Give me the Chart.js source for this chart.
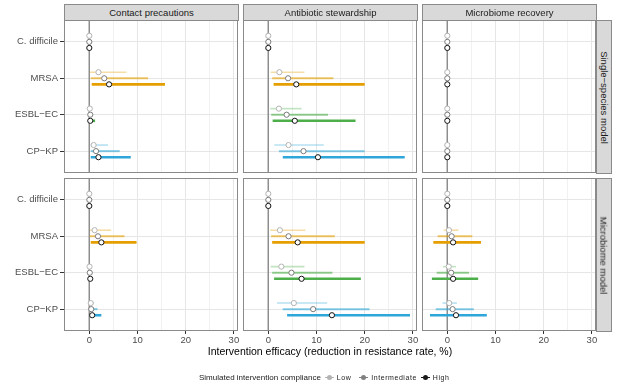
<!DOCTYPE html>
<html>
<head>
<meta charset="utf-8">
<script src="https://cdn.jsdelivr.net/npm/chart.js@4.4.1/dist/chart.umd.min.js"></script>
<style>
  body { margin: 0; background: #fff; font-family: "Liberation Sans", Arial, sans-serif; }
  #wrap { position: relative; width: 617px; height: 392px; overflow: hidden; }
  canvas { position: absolute; left: 0; top: 0; }
  .strip { position: absolute; background: #d9d9d9; border: 1px solid #8a8a8a; box-sizing: border-box;
           color: #1a1a1a; font-size: 9.5px; display: flex; align-items: center; justify-content: center; white-space: nowrap; }
  .strip.side span { transform: rotate(90deg); display: block; }
  #xtitle { position: absolute; left: 64px; width: 532px; top: 345px; text-align: center; font-size: 10.5px; color: #000; }
  #legend { position: absolute; left: 199px; top: 371px; height: 12px; display: flex; align-items: center; font-size: 8px; color: #1a1a1a; white-space: nowrap; }
  .key { position: relative; width: 9px; height: 12px; margin: 0 3px 0 4px; }
  .key i { position: absolute; left: 0; top: 5.5px; width: 9px; height: 1.2px; }
  .key b { position: absolute; left: 2px; top: 4px; width: 5px; height: 5px; border-radius: 50%; }
  .lab { font-size: 7px; letter-spacing: 0.55px; }
</style>
</head>
<body>
<div id="wrap">
  <canvas id="p00" width="617" height="392"></canvas>
  <canvas id="p01" width="617" height="392"></canvas>
  <canvas id="p02" width="617" height="392"></canvas>
  <canvas id="p10" width="617" height="392"></canvas>
  <canvas id="p11" width="617" height="392"></canvas>
  <canvas id="p12" width="617" height="392"></canvas>
  <div id="xtitle">Intervention efficacy (reduction in resistance rate, %)</div>
  <div id="legend">
    <span>Simulated intervention compliance</span>
    <span class="key" style="margin-left:4px"><i style="background:#b3b3b3"></i><b style="background:#b3b3b3"></b></span><span class="lab">Low</span>
    <span class="key" style="margin-left:8px"><i style="background:#808080"></i><b style="background:#808080"></b></span><span class="lab">Intermediate</span>
    <span class="key" style="margin-left:4px"><i style="background:#1a1a1a"></i><b style="background:#1a1a1a"></b></span><span class="lab">High</span>
  </div>
</div>
<script>
// categories
const species = ["C. difficile", "MRSA", "ESBL\u2212EC", "CP\u2212KP"];
const compliance = ["Low", "Intermediate", "High"];
const interventions = ["Contact precautions", "Antibiotic stewardship", "Microbiome recovery"];
const models = ["Single\u2212species model", "Microbiome model"];
const xTicks = [0, 10, 20, 30];

// values per panel: [species][compliance] = [lower, estimate, upper]
const zeroRow = [[0, 0, 0], [0, 0, 0], [0, 0, 0]];

const singleContact = [
  zeroRow,
  [[0.1, 1.9, 7.7], [0.3, 3.1, 12.2], [0.5, 4.1, 15.7]],
  [[0.0, 0.1, 0.2], [0.1, 0.2, 0.6], [-0.1, 0.2, 1.2]],
  [[0.3, 0.9, 3.9], [0.3, 1.4, 6.3], [0.3, 1.9, 8.6]]
];
const singleStewardship = [
  zeroRow,
  [[0.5, 2.3, 7.5], [0.8, 4.1, 13.5], [1.1, 5.8, 20.0]],
  [[0.4, 2.2, 6.9], [0.6, 3.8, 12.4], [0.9, 5.5, 18.1]],
  [[1.25, 4.2, 11.5], [2.2, 7.3, 20.0], [3.0, 10.3, 28.3]]
];
const singleMicrobiome = [zeroRow, zeroRow, zeroRow, zeroRow];

const microContact = [
  zeroRow,
  [[0.1, 1.1, 4.5], [0.1, 1.8, 7.3], [0.3, 2.5, 9.8]],
  [[0.0, 0.05, 0.1], [0.0, 0.1, 0.2], [-0.1, 0.2, 0.6]],
  [[0.0, 0.3, 1.0], [0.1, 0.4, 1.7], [0.3, 0.6, 2.5]]
];
const microStewardship = [
  zeroRow,
  [[0.4, 2.4, 7.7], [0.6, 4.2, 13.8], [0.8, 6.1, 20.0]],
  [[0.5, 2.7, 7.5], [0.8, 4.8, 13.3], [1.2, 6.9, 19.2]],
  [[1.8, 5.3, 12.2], [3.0, 9.3, 21.0], [3.9, 13.2, 29.4]]
];
const microMicrobiome = [
  zeroRow,
  [[-0.75, 0.35, 2.3], [-2.0, 0.9, 5.2], [-2.9, 1.2, 7.0]],
  [[-0.9, 0.3, 1.8], [-2.2, 0.8, 4.5], [-3.2, 1.2, 6.4]],
  [[-1.0, 0.4, 2.0], [-2.4, 1.1, 5.5], [-3.6, 1.8, 8.2]]
];

const panelData = [
  [singleContact, singleStewardship, singleMicrobiome],
  [microContact, microStewardship, microMicrobiome]
];

// styling
const speciesColor = ["153,153,153", "230,159,0", "77,175,74", "47,166,217"];
const levelAlpha = [0.35, 0.6, 1];
const levelWidth = [1.6, 2, 2.6];
const levelOffset = [-0.167, 0, 0.167];
const pointBorder = ["#b3b3b3", "#7a7a7a", "#111111"];

// panel rectangles (layout)
const colL = [64, 243, 422], colR = [238, 417, 596];
const rowT = [20, 178], rowB = [173, 331];
const W = 617, H = 392;

const wrap = document.getElementById("wrap");
interventions.forEach((name, c) => {
  const d = document.createElement("div");
  d.className = "strip";
  d.style.cssText = `left:${colL[c]}px;top:4px;width:${colR[c] - colL[c] + 1}px;height:17px`;
  d.textContent = name;
  wrap.append(d);
});
models.forEach((name, r) => {
  const d = document.createElement("div");
  d.className = "strip side";
  d.style.cssText = `left:${colR[2]}px;top:${rowT[r]}px;width:16px;height:${rowB[r] - rowT[r] + 1}px`;
  d.innerHTML = `<span>${name}</span>`;
  wrap.append(d);
});

const border = {
  id: "panelBorder",
  afterDraw(chart) {
    const a = chart.chartArea, g = chart.ctx;
    g.save();
    g.strokeStyle = "#8a8a8a";
    g.lineWidth = 1;
    g.strokeRect(a.left + 0.5, a.top + 0.5, a.right - a.left - 1, a.bottom - a.top - 1);
    g.restore();
  }
};

function makePanel(r, c) {
  const vals = panelData[r][c];
  const datasets = [];
  // zero reference line
  datasets.push({
    data: [{ x: 0, y: 0.4 }, { x: 0, y: 4.6 }],
    showLine: true, borderColor: "#8c8c8c", borderWidth: 1, pointRadius: 0, order: 3
  });
  species.forEach((sp, s) => {
    compliance.forEach((lv, l) => {
      const v = vals[s][l];
      const y = s + 1 + levelOffset[l];
      datasets.push({
        data: [{ x: v[0], y }, { x: v[2], y }],
        showLine: true,
        borderColor: `rgba(${speciesColor[s]},${levelAlpha[l]})`,
        borderWidth: levelWidth[l], borderCapStyle: "butt",
        pointRadius: 0, order: 2
      });
    });
  });
  compliance.forEach((lv, l) => {
    datasets.push({
      data: species.map((sp, s) => ({ x: vals[s][l][1], y: s + 1 + levelOffset[l] })),
      showLine: false,
      pointRadius: 2.6, pointBackgroundColor: "#ffffff",
      pointBorderColor: pointBorder[l], pointBorderWidth: 1, order: 1
    });
  });

  const bottom = r === 1, left = c === 0;
  new Chart(document.getElementById(`p${r}${c}`), {
    type: "scatter",
    data: { datasets },
    plugins: [border],
    options: {
      responsive: false, animation: false, events: [],
      layout: { padding: { left: 0, top: rowT[r], right: W - colR[c], bottom: 0 } },
      plugins: { legend: { display: false }, tooltip: { enabled: false } },
      scales: {
        x: {
          type: "linear", min: -5.25, max: 30.85,
          afterBuildTicks: sc => { sc.ticks = [0, 5, 10, 15, 20, 25, 30].map(v => ({ value: v })); },
          afterFit: sc => { sc.height = H - rowB[r]; },
          border: { display: false },
          grid: {
            color: ctx => xTicks.includes(ctx.tick.value) ? "#e6e6e6" : "#f1f1f1",
            drawTicks: bottom, tickLength: 3,
            tickColor: ctx => xTicks.includes(ctx.tick.value) ? "#333333" : "rgba(0,0,0,0)"
          },
          ticks: {
            display: bottom, autoSkip: false, maxRotation: 0, padding: 1,
            color: "#4d4d4d", font: { family: "Liberation Sans", size: 9.5 },
            callback: v => xTicks.includes(v) ? String(v) : ""
          }
        },
        y: {
          type: "linear", reverse: true, min: 0.4, max: 4.6,
          afterBuildTicks: sc => { sc.ticks = species.map((sp, i) => ({ value: i + 1 })); },
          afterFit: sc => { sc.width = colL[c]; },
          border: { display: false },
          grid: { color: "#e6e6e6", drawTicks: left, tickLength: 4, tickColor: "#333333" },
          ticks: {
            display: left, padding: 2, autoSkip: false,
            color: "#4d4d4d", font: { family: "Liberation Sans", size: 9.5 },
            callback: v => species[v - 1]
          }
        }
      }
    }
  });
}

for (let r = 0; r < 2; r++) for (let c = 0; c < 3; c++) makePanel(r, c);
</script>
</body>
</html>
